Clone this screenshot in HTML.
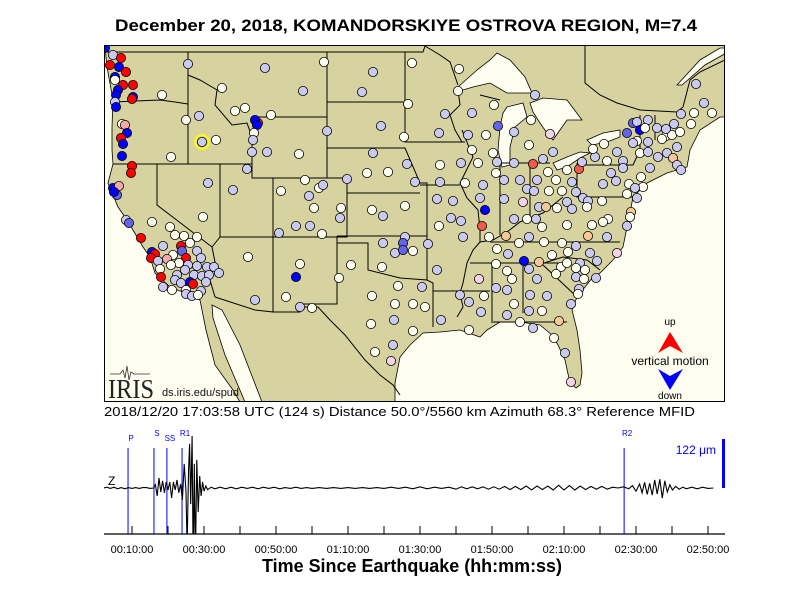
<!DOCTYPE html>
<html><head><meta charset="utf-8"><style>
html,body{margin:0;padding:0;background:#fff;}
svg{display:block;font-family:"Liberation Sans",sans-serif;}
</style></head><body>
<svg id="chart" width="800" height="600" viewBox="0 0 800 600" xmlns="http://www.w3.org/2000/svg">
<rect x="0" y="0" width="800" height="600" fill="#ffffff"/>
<text x="406" y="31" text-anchor="middle" font-size="17" font-weight="bold" textLength="582" lengthAdjust="spacingAndGlyphs">December 20, 2018, KOMANDORSKIYE OSTROVA REGION, M=7.4</text>
<defs><clipPath id="mapclip"><rect x="104.5" y="45.5" width="620" height="356"/></clipPath>
<clipPath id="trclip"><rect x="104" y="436" width="621" height="98"/></clipPath></defs>
<g id="map" clip-path="url(#mapclip)">
<rect x="104.5" y="45.5" width="620" height="356" fill="#d7d3a0"/>
<g fill="#fdfdf0" stroke="#000" stroke-width="0.8">
<polygon points="100,45 105,47 107,67 113,100 112,127 112,150 113,164 108,183 118,207 127,220 133,230 143,247 150,257 155,273 170,287 190,295 200,300 206,330 215,365 233,390 240,402 100,402"/>
<polygon points="212,305 222,310 240,345 262,402 245,402 225,355 213,318"/>
<polygon points="730,117 720,117 700,130 690,150 687,167 667,173 647,183 633,197 630,213 627,227 623,247 613,260 600,273 593,277 577,297 572,310 577,330 580,350 582,373 580,385 576,388 570,383 565,360 558,345 552,335 540,325 520,322 500,322 487,330 480,337 460,330 440,332 423,333 410,345 400,357 395,383 395,402 730,402"/>
<polygon points="458,87 477,70 490,60 497,53 510,60 525,77 532,93 507,93 490,83 473,87 463,90"/>
<polygon points="507,107 523,103 527,117 515,127 510,147 510,165 502,167 498,150 500,127 503,113"/>
<polygon points="530,103 543,98 567,100 582,120 567,120 560,130 553,140 547,133 540,123 533,112"/>
<polygon points="553,163 567,157 580,152 590,153 580,158 567,167 557,170"/>
<polygon points="587,140 603,133 620,130 620,137 607,142 592,145"/>
<polygon points="677,85 700,60 720,48 728,48 728,52 705,65 682,85"/>
</g>
<g fill="none" stroke="#000" stroke-width="1">
<polyline points="104,52 423,52 425,46 440,55 450,62 458,85"/>
<polyline points="585,45 585,83 600,95 617,103 640,110 677,112 683,107 690,80 700,72 725,60"/>
<polyline points="113,102 160,100 175,102 188,104"/>
<polyline points="188,52 188,164"/>
<polyline points="113,164 252,164"/>
<polyline points="157,164 157,205 212,247 215,262 210,280 215,297"/>
<polyline points="220,164 220,237 212,247"/>
<polyline points="220,237 273,237 273,312"/>
<polyline points="215,297 255,310 273,312 300,312 300,307 318,307 330,320 345,335 365,360 380,375 393,385 400,395"/>
<polyline points="188,75 200,80 217,90 215,105 232,125 247,123 252,137 252,178 273,178 273,237"/>
<polyline points="252,117 327,117"/>
<polyline points="327,52 327,178 347,178 347,237 273,237"/>
<polyline points="273,178 327,178"/>
<polyline points="327,148 405,148 420,183 427,183 427,280"/>
<polyline points="347,193 420,193"/>
<polyline points="327,102 405,102"/>
<polyline points="405,52 405,142 465,142"/>
<polyline points="337,236 427,236"/>
<polyline points="337,236 337,304 300,304"/>
<polyline points="337,243 368,243 368,270 400,278 427,280 433,283 433,327"/>
<polyline points="433,291 490,291"/>
<polyline points="420,185 460,185"/>
<polyline points="458,90 460,105 450,115 455,130 462,142"/>
<polyline points="462,130 473,157 460,183 467,198 478,210 480,230 480,242 473,250 467,263 463,283 460,293 463,307 457,317"/>
<polyline points="480,242 493,240 507,232 520,222 530,218 543,213 553,205 563,197"/>
<polyline points="500,163 500,235"/>
<polyline points="530,160 530,218"/>
<polyline points="500,163 550,163"/>
<polyline points="577,163 577,197 640,197"/>
<polyline points="577,165 633,165 640,150 640,115"/>
<polyline points="655,115 655,140"/>
<polyline points="490,242 620,242"/>
<polyline points="470,263 570,263"/>
<polyline points="492,263 492,323"/>
<polyline points="523,263 523,313"/>
<polyline points="493,322 567,322"/>
<polyline points="544,263 563,257 587,260 600,270"/>
<polyline points="543,265 577,297"/>
<polyline points="480,95 500,100"/>
</g>
<g id="stations"></g>
</g>
<rect x="104.5" y="45.5" width="620" height="356" fill="none" stroke="#000" stroke-width="1"/>
<g>
<polyline points="110,374 120,374 123,370 125,378 127,366 129,380 131,372 134,374 150,374" fill="none" stroke="#333" stroke-width="0.8"/>
<text x="108" y="398" font-family="Liberation Serif,serif" font-size="27" fill="#222" textLength="46" lengthAdjust="spacingAndGlyphs">IRIS</text>
<text x="162" y="396" font-size="11" fill="#111">ds.iris.edu/spud</text>
</g>
<g>
<text x="670" y="325" text-anchor="middle" font-size="10">up</text>
<polygon points="670,332 658,353 670,346 683,353" fill="#ff0000"/>
<text x="670" y="365" text-anchor="middle" font-size="12">vertical motion</text>
<polygon points="658,369 670,376 683,369 670,390" fill="#0000ff"/>
<text x="670" y="399" text-anchor="middle" font-size="10">down</text>
</g>
<text x="104" y="416" font-size="13" textLength="591" lengthAdjust="spacingAndGlyphs">2018/12/20 17:03:58 UTC (124 s)     Distance  50.0°/5560 km  Azimuth  68.3°  Reference MFID</text>
<g id="seis"></g>
<text x="412" y="572" text-anchor="middle" font-size="18" font-weight="bold" textLength="300" lengthAdjust="spacingAndGlyphs">Time Since Earthquake (hh:mm:ss)</text>
</svg>
<script>
// ---- station data: [lon, lat, colour code] ----
const stationsWest = [
[-124.9,49.7,'b'],[-124.1,49.0,'l'],[-123.3,48.7,'r'],[-124.4,48.0,'r'],[-123.5,47.8,'b'],[-122.8,47.3,'r'],[-123.9,46.8,'b'],[-123.9,46.5,'w'],[-123.1,46.0,'r'],[-122.1,46.0,'r'],[-123.6,45.5,'b'],[-123.8,45.0,'b'],[-122.1,44.8,'b'],[-122.2,44.6,'r'],[-123.9,44.3,'l'],[-123.8,43.8,'b'],
[-119.2,45.0,'w'],[-116.6,48.1,'l'],[-108.9,47.7,'l'],[-103.0,48.3,'w'],[-98.1,47.3,'l'],[-105.1,45.4,'l'],[-113.2,45.7,'w'],[-99.2,45.3,'l'],[-111.9,43.4,'w'],[-110.9,43.7,'w'],[-108.3,43.0,'w'],[-115.5,42.9,'l'],[-116.8,42.5,'w'],
[-109.6,42.2,'r'],[-109.9,42.5,'b'],[-109.7,42.0,'b'],[-110.0,41.2,'w'],[-110.1,40.5,'l'],[-97.3,41.9,'l'],[-102.7,41.4,'l'],
[-123.2,42.1,'w'],[-122.9,42.0,'p'],[-122.7,41.2,'b'],[-123.3,40.7,'r'],[-123.1,40.1,'b'],[-123.2,38.9,'b'],
[-115.2,40.3,'l'],[-113.8,40.5,'w'],[-118.3,38.8,'w'],[-110.2,39.3,'l'],[-108.7,39.3,'l'],[-105.5,39.1,'w'],[-98.1,39.2,'l'],
[-122.2,37.9,'r'],[-122.3,37.2,'r'],[-110.7,37.6,'l'],[-98.7,37.2,'w'],[-96.6,37.3,'w'],[-114.6,36.2,'l'],[-112.1,35.5,'l'],[-104.9,36.5,'w'],[-103.5,35.7,'w'],[-103.1,36.0,'l'],[-100.7,36.6,'l'],[-107.3,35.4,'w'],[-104.5,34.9,'l'],
[-124.1,35.7,'b'],[-123.5,35.9,'p'],[-123.7,35.0,'m'],[-124.0,35.3,'b'],
[-98.2,33.5,'w'],[-97.1,32.9,'l'],[-104.0,33.7,'w'],[-101.3,33.7,'w'],[-101.4,32.7,'l'],[-115.1,32.8,'w'],[-120.2,32.3,'w'],[-122.8,32.5,'l'],[-122.5,32.2,'m'],
[-105.8,31.9,'l'],[-104.4,31.9,'l'],[-103.2,31.1,'w'],[-107.5,31.2,'l'],[-97.1,30.2,'l'],[-95.9,29.2,'l'],[-110.6,28.8,'w'],[-105.4,28.1,'w'],[-100.3,28.0,'w'],[-97.2,27.8,'w'],[-101.5,26.7,'w'],[-105.8,26.8,'b']
];
const stationsCalifornia = [
[-118.4,31.8,'w'],[-117.9,31.0,'w'],[-117.0,30.9,'w'],[-115.7,30.8,'w'],[-121.3,30.7,'r'],[-117.3,29.9,'r'],[-116.4,30.2,'w'],[-119.1,29.9,'l'],[-117.2,29.4,'m'],[-120.2,29.3,'b'],[-119.9,29.1,'r'],[-118.1,29.0,'w'],[-115.7,29.4,'l'],[-118.7,28.6,'p'],[-120.3,28.7,'r'],[-116.8,28.7,'r'],[-119.6,28.4,'l'],[-115.3,28.7,'l'],[-117.5,28.2,'w'],[-118.3,28.0,'w'],[-116.6,28.0,'l'],[-115.7,27.9,'l'],[-114.7,27.8,'l'],[-114.0,27.8,'l'],[-119.4,27.6,'w'],[-116.9,27.5,'l'],[-117.7,27.0,'l'],[-116.0,27.0,'l'],[-115.2,26.9,'l'],[-114.5,27.0,'l'],[-113.5,27.2,'l'],[-119.3,26.8,'r'],[-117.9,26.5,'l'],[-117.3,26.2,'l'],[-116.4,26.3,'b'],[-116.1,26.1,'r'],[-114.8,26.3,'l'],[-116.8,25.5,'w'],[-118.2,25.5,'w'],[-119.1,25.8,'l'],[-115.3,25.4,'l'],[-116.8,25.1,'l'],[-116.2,24.9,'l'],[-115.6,25.0,'w'],[-106.8,24.8,'w'],[-109.9,24.5,'l'],[-105.4,23.8,'l'],[-104.2,23.7,'w']
];
const stationsCentral = [
[-94.7,38.1,'l'],[-91.4,38.0,'w'],[-89.3,38.2,'l'],[-87.6,38.2,'w'],[-86.1,39.2,'w'],[-85.7,38.3,'l'],[-84.0,38.2,'l'],[-82.1,38.1,'s'],[-80.6,37.3,'w'],[-78.7,37.5,'w'],[-77.5,37.6,'s'],[-75.9,38.8,'l'],
[-93.9,36.3,'l'],[-91.4,36.3,'l'],[-88.9,36.2,'w'],[-85.8,37.2,'w'],[-85.0,36.5,'l'],[-83.4,36.5,'l'],[-81.7,36.5,'l'],[-79.8,36.5,'w'],[-78.2,36.3,'l'],[-87.1,36.0,'l'],[-82.7,35.6,'l'],[-82.0,35.4,'l'],[-80.5,35.4,'w'],[-79.2,35.4,'w'],[-77.8,35.3,'l'],
[-91.7,34.6,'l'],[-90.1,34.4,'l'],[-87.4,34.7,'l'],[-85.0,34.6,'l'],[-83.1,34.3,'k'],[-78.7,34.3,'l'],[-77.1,34.7,'l'],[-76.6,34.4,'l'],[-94.9,33.9,'w'],[-86.9,33.5,'b'],[-90.3,32.7,'l'],[-89.3,32.4,'l'],[-81.5,33.8,'l'],[-80.8,33.8,'o'],[-79.7,33.7,'w'],[-78.2,33.6,'l'],[-76.7,33.8,'w'],
[-91.5,31.9,'w'],[-87.2,31.9,'s'],[-84.0,32.6,'l'],[-82.7,32.6,'w'],[-81.8,32.6,'l'],[-81.2,31.8,'w'],[-78.7,32.0,'w'],[-76.2,32.0,'w'],
[-94.9,30.8,'l'],[-95.1,30.2,'m'],[-95.1,29.5,'m'],[-94.1,29.4,'w'],[-92.6,30.1,'l'],[-89.1,30.8,'l'],[-86.5,30.8,'w'],[-84.8,30.9,'o'],[-83.5,30.2,'w'],[-82.5,30.8,'l'],[-81.0,30.3,'w'],[-79.2,30.2,'w'],[-77.8,29.9,'l'],[-76.6,30.9,'o'],
[-85.7,29.6,'w'],[-84.6,29.1,'l'],[-83.0,28.4,'b'],[-81.5,28.3,'o'],[-80.2,29.0,'w'],[-78.6,29.3,'w'],[-77.4,28.2,'l'],[-76.4,29.2,'l'],[-75.7,28.4,'l'],
[-85.8,28.1,'w'],[-84.7,27.4,'w'],[-84.2,26.6,'w'],[-82.5,27.6,'l'],[-81.7,26.6,'l'],[-79.3,27.8,'w'],[-78.7,28.2,'w'],[-77.8,27.7,'w'],[-76.9,27.5,'w'],[-77.8,26.8,'l'],[-77.0,26.6,'w'],[-79.8,27.1,'w'],[-75.8,26.7,'l'],
[-91.7,27.5,'l'],[-87.5,26.6,'k'],[-95.6,25.9,'w'],[-93.2,25.8,'l'],[-85.8,25.7,'l'],[-84.7,25.5,'l'],[-82.4,25.0,'l'],[-80.7,24.9,'l'],[-77.5,25.6,'l'],[-77.6,25.1,'w'],[-89.4,25.0,'l'],[-87.0,24.9,'w'],[-88.5,24.3,'l'],
[-98.2,24.9,'w'],[-95.9,24.1,'w'],[-94.1,24.1,'w'],[-92.9,23.8,'w'],[-84.0,24.1,'w'],[-78.3,24.1,'l'],[-87.3,23.3,'l'],[-84.7,23.0,'l'],[-82.5,23.4,'l'],[-81.2,23.4,'w'],
[-96.0,22.5,'l'],[-91.3,22.5,'l'],[-98.3,22.1,'w'],[-83.4,22.3,'w'],[-82.1,21.7,'l'],[-79.5,22.4,'o'],[-94.1,21.4,'w'],[-88.5,21.5,'w'],[-80.0,20.7,'w'],[-96.1,20.0,'l'],[-97.9,19.3,'w'],[-78.9,19.2,'l'],[-96.3,18.4,'k'],[-78.3,16.3,'k']
];
const stationsNortheast = [
[-94.2,48.2,'w'],[-89.5,47.6,'w'],[-94.6,44.1,'w'],[-89.6,45.4,'w'],[-86.0,44.0,'w'],[-81.9,45.0,'l'],[-90.9,43.1,'l'],[-88.2,43.2,'l'],[-85.6,41.9,'m'],[-84.0,41.3,'l'],[-82.3,42.5,'w'],[-80.4,41.1,'k'],[-91.5,41.2,'l'],[-88.6,41.0,'l'],[-86.8,41.0,'w'],[-95.0,40.8,'w'],[-88.2,39.5,'w'],[-82.5,40.0,'w'],[-81.1,38.6,'l'],[-80.1,39.3,'l'],
[-77.2,38.3,'l'],[-76.1,39.6,'w'],[-75.0,40.1,'w'],[-74.7,38.4,'w'],[-73.7,39.3,'l'],[-73.1,38.4,'l'],[-71.7,40.4,'w'],[-70.6,40.3,'l'],[-71.4,39.2,'w'],[-70.6,39.3,'l'],[-69.6,38.8,'l'],[-68.7,39.2,'l'],[-68.1,38.7,'o'],[-67.7,38.0,'l'],[-67.3,37.5,'l'],[-67.7,39.8,'l'],[-68.8,40.9,'w'],[-69.2,40.6,'w'],[-68.2,41.0,'w'],[-69.7,41.7,'l'],[-68.8,41.6,'l'],[-68.0,42.1,'l'],[-67.4,41.3,'w'],[-66.3,42.1,'w'],[-66.0,43.2,'w'],[-67.3,43.1,'l'],[-65.0,44.2,'l'],[-64.2,43.2,'w'],[-65.8,46.1,'l'],
[-72.1,42.2,'m'],[-71.7,42.3,'l'],[-70.6,42.5,'l'],[-71.4,41.5,'b'],[-72.7,41.2,'m'],[-70.9,41.7,'w'],[-72.1,40.2,'l'],[-73.1,37.7,'l'],[-74.3,37.2,'l'],[-73.8,36.4,'l'],[-75.1,36.1,'l'],[-72.5,36.1,'w'],[-71.3,36.8,'w'],[-70.4,37.7,'l'],[-71.1,35.8,'w'],[-71.9,35.7,'l'],[-72.7,35.1,'w'],[-71.7,34.7,'l'],[-75.2,34.4,'w'],[-72.3,33.3,'o'],[-72.4,32.8,'w'],[-72.7,31.9,'l'],[-73.7,29.2,'k'],[-74.6,32.6,'w'],[-75.1,32.3,'w'],[-74.7,30.8,'l']
];
const ringLon = [-115.2];
const ringLat = [40.3];
const colourFor = {w:"#fffff2",l:"#cacaf0",b:"#0000ff",m:"#6464ea",r:"#ff0000",p:"#f5aaaa",k:"#f5d2e6",o:"#f5c898",s:"#f25a4a"};
const svgNS="http://www.w3.org/2000/svg";
function px(lon){return (lon+135.4)*10;}
function py(lat){return (54.5-lat)*10;}
const sg=document.getElementById('stations');
const allStations = stationsWest.concat(stationsCalifornia, stationsCentral, stationsNortheast);
for(let i=0;i<allStations.length;i++){
  const s=allStations[i];
  const c=document.createElementNS(svgNS,'circle');
  c.setAttribute('cx',px(s[0]).toFixed(1));
  c.setAttribute('cy',py(s[1]).toFixed(1));
  c.setAttribute('r','4.6');
  c.setAttribute('fill',colourFor[s[2]]||"#cacaf0");
  c.setAttribute('stroke','#000');
  c.setAttribute('stroke-width','0.8');
  
  
  sg.appendChild(c);
}
for(let i=0;i<ringLon.length;i++){
  const c=document.createElementNS(svgNS,'circle');
  c.setAttribute('cx',px(ringLon[i]));
  c.setAttribute('cy',py(ringLat[i]));
  c.setAttribute('r','7');
  c.setAttribute('fill','none');
  c.setAttribute('stroke','#ffff00');
  c.setAttribute('stroke-width','2');
  
  
  sg.appendChild(c);
}

// ---- seismogram data ----
const tickTimes = [10,20,30,40,50,60,70,80,90,100,110,120,130,140,150,160,170];
const tickLabels = ["00:10:00","00:30:00","00:50:00","01:10:00","01:30:00","01:50:00","02:10:00","02:30:00","02:50:00"];
const tickLabelTimes = [10,30,50,70,90,110,130,150,170];
const phaseNames = ["P","S","SS","R1","R2"];
const phaseTimes = [8.9,16.1,19.7,23.9,146.7];
const phaseLabelRow = [1,0,1,0,0];
const scaleMicrons = [122];
const traceT = [2.2,3,4,5,6,7,8,9,10,11,12,13,14,15,16,16.5,17,17.5,18,18.5,19,19.5,20,20.5,21,21.5,22,22.5,23,23.5,24,24.5,25,25.3,25.7,26,26.3,26.7,27,27.3,27.6,28,28.4,28.8,29.2,29.6,30,30.5,31,32,33,34.5,36,37.5,39,40.5,42,43.5,45,46.5,48,49.5,51,52.5,54,55.5,57,58.5,60,62,64,66,68,70,72,74,76,78,80,82,84,86,88,90,92,94,96,98,100,101.5,103,104.5,106,107.5,109,110.5,112,113.5,115,116.5,118,119.5,121,122.5,124,125.5,127,128.5,130,131.5,133,134.5,136,137.5,139,140.5,142,143.5,145,146.5,148,149,150,151,151.7,152.4,153.1,153.8,154.5,155.2,155.9,156.6,157.3,158,158.7,159.4,160.1,161,162,163,164,165.5,167,168.5,170,171.5,173,174.4];
const traceA = [0,2,-1,2,-2,1,-2,1,-1,1,-1,1,1,-1,0,8,-20,25,-10,18,-12,15,-5,15,-25,15,-5,20,-12,10,-30,60,-10,-150,40,110,-40,130,-200,60,-180,70,-60,30,-20,15,-8,5,-4,2,-2,2,-2,2,-2,2,-1,2,-2,2,-1,2,-2,1,-1,2,-1,1,-1,1,-1,1,-1,1,-1,1,-1,1,-1,2,-1,2,-2,3,-2,2,-1,2,-3,3,-2,3,-2,3,-3,3,-3,4,-4,4,-4,5,-5,5,-4,5,-5,7,-5,6,-5,5,-4,4,-3,4,-3,2,0,3,-2,6,-8,10,-12,14,-16,12,-18,20,-15,22,-25,18,-10,8,-5,4,-3,2,-2,2,-2,2,-1,0];

const TX0=132, TPX=3.6, BASE=488, UM=49/122;
function tx(t){return TX0+(t-10)*TPX;}
function ty(a){return BASE-a*UM;}
const seis=document.getElementById('seis');
const ax=document.createElementNS(svgNS,'line');
ax.setAttribute('x1',104);ax.setAttribute('y1',534);ax.setAttribute('x2',725);ax.setAttribute('y2',534);
ax.setAttribute('stroke','#000');ax.setAttribute('stroke-width','1.2');


seis.appendChild(ax);
for(let i=0;i<tickTimes.length;i++){
  const l=document.createElementNS(svgNS,'line');
  l.setAttribute('x1',tx(tickTimes[i]));l.setAttribute('x2',tx(tickTimes[i]));
  l.setAttribute('y1',526);l.setAttribute('y2',534);l.setAttribute('stroke','#000');
  
  
  seis.appendChild(l);
}
for(let i=0;i<tickLabels.length;i++){
  const t=document.createElementNS(svgNS,'text');
  t.setAttribute('x',tx(tickLabelTimes[i]));t.setAttribute('y',553);
  t.setAttribute('text-anchor','middle');t.setAttribute('font-size','11');
  t.textContent=tickLabels[i];
  
  
  seis.appendChild(t);
}
for(let i=0;i<phaseNames.length;i++){
  const x=tx(phaseTimes[i]);
  const l=document.createElementNS(svgNS,'line');
  l.setAttribute('x1',x);l.setAttribute('x2',x);l.setAttribute('y1',448);l.setAttribute('y2',534);
  l.setAttribute('stroke','#0000ff');l.setAttribute('stroke-width','1');
  
  
  seis.appendChild(l);
  const t=document.createElementNS(svgNS,'text');
  t.setAttribute('x',x+3);t.setAttribute('y',phaseLabelRow[i]?441:436);
  t.setAttribute('text-anchor','middle');t.setAttribute('font-size','8');t.setAttribute('fill','#0000ff');
  t.textContent=phaseNames[i];
  
  
  seis.appendChild(t);
}
let d='';
for(let i=0;i<traceT.length;i++){d+=(i?'L':'M')+tx(traceT[i]).toFixed(1)+','+ty(traceA[i]).toFixed(1);}
const tr=document.createElementNS(svgNS,'path');
tr.setAttribute('d',d);tr.setAttribute('fill','none');tr.setAttribute('stroke','#000');tr.setAttribute('stroke-width','1.1');
tr.setAttribute('clip-path','url(#trclip)');


seis.appendChild(tr);
const sb=document.createElementNS(svgNS,'line');
sb.setAttribute('x1',723.5);sb.setAttribute('x2',723.5);sb.setAttribute('y1',ty(scaleMicrons[0]));sb.setAttribute('y2',BASE);
sb.setAttribute('stroke','#0000ff');sb.setAttribute('stroke-width','3');


seis.appendChild(sb);
const st=document.createElementNS(svgNS,'text');
st.setAttribute('x',716);st.setAttribute('y',454);st.setAttribute('text-anchor','end');st.setAttribute('font-size','12');st.setAttribute('fill','#0000ff');
st.textContent=scaleMicrons[0]+' \u03bcm';


seis.appendChild(st);
const zl=document.createElementNS(svgNS,'text');
zl.setAttribute('x',108);zl.setAttribute('y',485);zl.setAttribute('font-size','12');
zl.textContent='Z';


seis.appendChild(zl);
</script>
</body></html>
